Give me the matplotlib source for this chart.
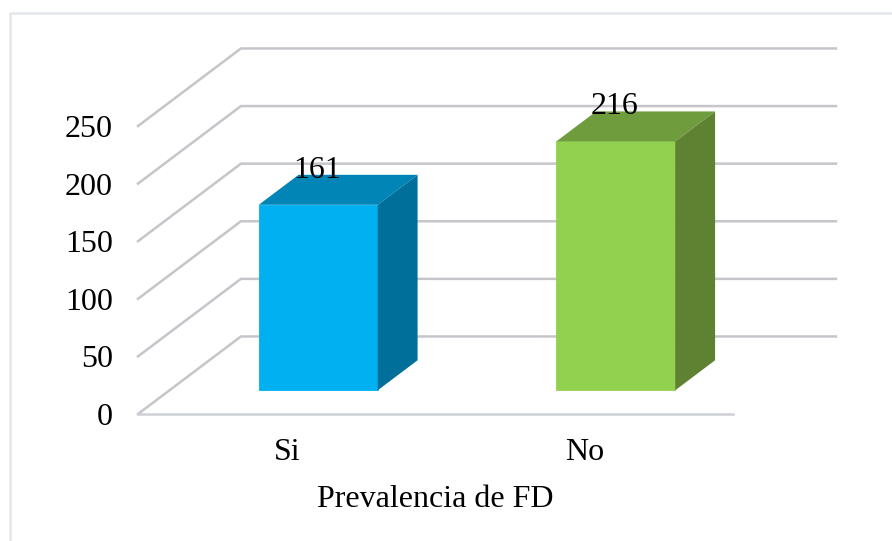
import matplotlib
matplotlib.use("Agg")
import matplotlib.pyplot as plt
from matplotlib.lines import Line2D

categories = ["Si", "No"]
values = [161, 216]
y_ticks = [0, 50, 100, 150, 200, 250]
x_title = "Prevalencia de FD"

front_colors = ["#00B0F0", "#92D050"]
top_colors = ["#0085B6", "#6F9C3D"]
side_colors = ["#00709A", "#5E8231"]

# Depth of the fake 3D box, in data units
wall_dx = 0.346
wall_dy = 67.3
bar_width = 0.4
depth_start = 0.306
depth_end = 0.693

grid_color = "#C4C6C9"

plt.rcParams['font.family'] = ['Liberation Serif', 'DejaVu Serif']

W, H = 892, 541
fig = plt.figure(figsize=(W / 100, H / 100), dpi=100)
ax = fig.add_axes([138 / W, 1 - 414 / H, 595 / W, 288 / H])
ax.set_xlim(0, len(categories))
ax.set_ylim(0, max(y_ticks))
ax.patch.set_visible(False)
for spine in ax.spines.values():
    spine.set_visible(False)

# Outer chart border: only left and top reach into the picture
fig.add_artist(Line2D([9.5 / W, 9.5 / W, 1], [0, 1 - 12.5 / H, 1 - 12.5 / H], transform=fig.transFigure,
                      color="#E4E7EB", linewidth=1.8))


def project(x, y, depth):
    return x + wall_dx * depth, y + wall_dy * depth


# Gridlines: side wall then back wall
for tick in y_ticks:
    xs = [0, wall_dx, len(categories) + wall_dx]
    ys = [tick, tick + wall_dy, tick + wall_dy]
    ax.plot(xs, ys, color=grid_color, linewidth=1.8, clip_on=False, zorder=1)
# Floor front edge
ax.plot([0, len(categories)], [0, 0], color="#CDD0D4", linewidth=1.8, clip_on=False, zorder=1)

# Bars
for i, value in enumerate(values):
    left = i + 0.5 - bar_width / 2
    right = i + 0.5 + bar_width / 2

    fl = project(left, 0, depth_start)
    fr = project(right, 0, depth_start)
    tl = project(left, value, depth_start)
    tr = project(right, value, depth_start)
    br_b = project(right, 0, depth_end)
    br_t = project(right, value, depth_end)
    bl_t = project(left, value, depth_end)

    ax.fill(*zip(fl, fr, tr, tl), color=front_colors[i], clip_on=False, zorder=3, linewidth=0.6)
    ax.fill(*zip(tl, tr, br_t, bl_t), color=top_colors[i], clip_on=False, zorder=3, linewidth=0)
    ax.fill(*zip(fr, br_b, br_t, tr), color=side_colors[i], clip_on=False, zorder=3, linewidth=0)

    ax.annotate(str(value), xy=(tl[0] + bar_width / 2, tl[1]), xytext=(-0.7, 24.8), textcoords="offset points",
                ha='center', va='center', fontsize=23, color="black", zorder=5, annotation_clip=False)

ax.set_yticks(y_ticks)
ax.set_xticks([i + 0.5 for i in range(len(categories))])
ax.set_xticklabels(categories)
ax.tick_params(axis='both', length=0, labelsize=23, colors="black")
ax.tick_params(axis='y', pad=18)
ax.tick_params(axis='x', pad=17)
ax.set_xlabel(x_title, fontsize=23, labelpad=13)

plt.savefig("out.png", dpi=100)
